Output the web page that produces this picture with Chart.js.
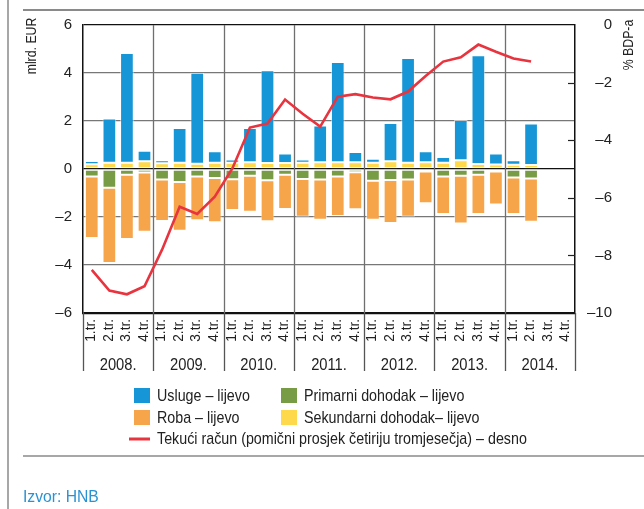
<!DOCTYPE html>
<html>
<head>
<meta charset="utf-8">
<script src="https://cdn.jsdelivr.net/npm/chart.js@4.4.1/dist/chart.umd.min.js"></script>
<style>
  html, body { margin: 0; padding: 0; background: #fff; }
  canvas { display: block; }
</style>
</head>
<body>
<canvas id="chart" width="644" height="509"></canvas>
<script>
const quarters = ['1.tr.', '2.tr.', '3.tr.', '4.tr.'];
const years = ['2008.', '2009.', '2010.', '2011.', '2012.', '2013.', '2014.'];
const labels = years.flatMap(y => quarters.map(q => q + ' ' + y));

// mlrd. EUR, lijeva os
const usluge = [0.13, 1.84, 4.57, 0.44, 0.12, 1.45, 3.79, 0.48, 0.14, 1.43, 3.86, 0.40,
  0.14, 1.53, 4.18, 0.43, 0.17, 1.60, 4.37, 0.46, 0.24, 1.68, 4.53, 0.46, 0.18, 1.73, null, null];
const sekundarni = [0.20, 0.26, 0.26, 0.32, 0.24, 0.26, 0.22, 0.26, 0.26, 0.28, 0.25, 0.25,
  0.26, 0.28, 0.28, 0.28, 0.26, 0.32, 0.26, 0.28, 0.26, 0.36, 0.21, 0.19, 0.18, 0.17, null, null];
const primarni = [-0.31, -0.78, -0.24, -0.15, -0.44, -0.54, -0.31, -0.38, -0.43, -0.28, -0.47, -0.24,
  -0.42, -0.44, -0.31, -0.14, -0.49, -0.46, -0.44, -0.10, -0.31, -0.28, -0.24, -0.10, -0.35, -0.40, null, null];
const roba = [-2.56, -3.14, -2.68, -2.46, -1.73, -2.03, -1.83, -1.84, -1.28, -1.50, -1.71, -1.43,
  -1.57, -1.67, -1.65, -1.54, -1.62, -1.79, -1.55, -1.33, -1.57, -1.99, -1.64, -1.38, -1.53, -1.80, null, null];
// % BDP-a, desna os
const tekuci = [-8.50, -9.22, -9.35, -9.07, -7.80, -6.31, -6.56, -5.96, -4.98, -3.56, -3.42, -2.59,
  -3.08, -3.53, -2.49, -2.40, -2.52, -2.58, -2.31, -1.77, -1.27, -1.12, -0.68, -0.93, -1.16, -1.27, null, null];

const BLUE = '#1696d6', ORANGE = '#f7a54b', GREEN = '#789b45', YELLOW = '#fdd94b', RED = '#e8343f';
const SANS = "'Liberation Sans', Arial, sans-serif";

function dash(v) { return v < 0 ? '\u2013' + Math.abs(v) : String(v); }

// narrow look: regular face squeezed horizontally
function narrowText(ctx, text, x, y, size, sx) {
  ctx.save();
  ctx.translate(x, y);
  ctx.scale(sx, 1);
  ctx.font = size + 'px ' + SANS;
  ctx.fillText(text, 0, 0);
  ctx.restore();
}

const extras = {
  id: 'extras',
  beforeDatasetsDraw(chart) {
    const { ctx, chartArea: a, scales: { x } } = chart;
    ctx.save();
    ctx.strokeStyle = '#6f6f6f';
    ctx.lineWidth = 1.3;
    for (let k = 1; k < years.length; k++) {
      const px = Math.round((x.getPixelForValue(k * 4 - 1) + x.getPixelForValue(k * 4)) / 2) + 0.5;
      ctx.beginPath(); ctx.moveTo(px, a.top); ctx.lineTo(px, a.bottom); ctx.stroke();
    }
    ctx.restore();
  },
  afterDraw(chart) {
    const { ctx, chartArea: a, scales: { x, y1 } } = chart;
    ctx.save();
    // page frame lines
    ctx.strokeStyle = '#8a8a8a';
    ctx.lineWidth = 2;
    ctx.beginPath(); ctx.moveTo(23, 10); ctx.lineTo(644, 10); ctx.stroke();
    ctx.lineWidth = 1.5;
    ctx.beginPath(); ctx.moveTo(8, 0); ctx.lineTo(8, 509); ctx.stroke();
    ctx.beginPath(); ctx.moveTo(23, 456); ctx.lineTo(644, 456); ctx.stroke();

    // inner ticks on right axis
    ctx.strokeStyle = '#222';
    ctx.lineWidth = 1.2;
    for (let v = -2; v >= -8; v -= 2) {
      const py = Math.round(y1.getPixelForValue(v)) + 0.5;
      ctx.beginPath(); ctx.moveTo(a.right - 7, py); ctx.lineTo(a.right, py); ctx.stroke();
    }

    // separators under the axis
    ctx.strokeStyle = '#555';
    ctx.lineWidth = 1.3;
    const bounds = [a.left];
    for (let k = 1; k < years.length; k++) bounds.push((x.getPixelForValue(k * 4 - 1) + x.getPixelForValue(k * 4)) / 2);
    bounds.push(a.right);
    bounds.forEach(b => {
      const px = Math.round(b) + 0.5;
      ctx.beginPath(); ctx.moveTo(px, a.bottom); ctx.lineTo(px, 371); ctx.stroke();
    });

    ctx.fillStyle = '#222';
    ctx.textBaseline = 'middle';

    // quarter labels
    ctx.textAlign = 'right';
    labels.forEach((l, i) => {
      ctx.save();
      ctx.translate(x.getPixelForValue(i) - 1, a.bottom + 6);
      ctx.rotate(-Math.PI / 2);
      narrowText(ctx, quarters[i % 4], 0, 0, 15.5, 0.88);
      ctx.restore();
    });

    // year labels
    ctx.textAlign = 'center';
    years.forEach((yr, k) => {
      narrowText(ctx, yr, (bounds[k] + bounds[k + 1]) / 2, 366, 16, 0.92);
    });

    // axis titles
    ctx.save(); ctx.translate(32, 46); ctx.rotate(-Math.PI / 2); narrowText(ctx, 'mlrd. EUR', 0, 0, 15, 0.82); ctx.restore();
    ctx.save(); ctx.translate(629, 45); ctx.rotate(-Math.PI / 2); narrowText(ctx, '% BDP-a', 0, 0, 15, 0.82); ctx.restore();

    // legend
    ctx.textAlign = 'left';
    const items = [
      [BLUE, 'Usluge \u2013 lijevo', 134, 388],
      [GREEN, 'Primarni dohodak \u2013 lijevo', 281, 388],
      [ORANGE, 'Roba \u2013 lijevo', 134, 410],
      [YELLOW, 'Sekundarni dohodak\u2013 lijevo', 281, 410]
    ];
    items.forEach(([c, t, lx, ly]) => {
      ctx.fillStyle = c;
      ctx.fillRect(lx, ly, 16, 15);
      ctx.fillStyle = '#222';
      narrowText(ctx, t, lx + 23, ly + 8, 17, 0.84);
    });
    ctx.strokeStyle = RED;
    ctx.lineWidth = 3;
    ctx.beginPath(); ctx.moveTo(129, 439); ctx.lineTo(150, 439); ctx.stroke();
    ctx.fillStyle = '#222';
    narrowText(ctx, 'Teku\u0107i ra\u010dun (pomi\u010dni prosjek \u010detiriju tromjese\u010dja) \u2013 desno', 157, 439, 17, 0.84);

    // source
    ctx.fillStyle = '#2a92d2';
    narrowText(ctx, 'Izvor: HNB', 23, 497, 16.5, 0.95);
    ctx.restore();
  }
};

function barSet(label, data, color) {
  return {
    type: 'bar', label, data, backgroundColor: color,
    borderColor: 'rgba(255,255,255,0.55)', borderWidth: 1, borderSkipped: false,
    stack: 's', yAxisID: 'y', order: 1,
    barPercentage: 0.78, categoryPercentage: 1
  };
}

new Chart(document.getElementById('chart'), {
  data: {
    labels,
    datasets: [
      barSet('Sekundarni dohodak\u2013 lijevo', sekundarni, YELLOW),
      barSet('Primarni dohodak \u2013 lijevo', primarni, GREEN),
      barSet('Usluge \u2013 lijevo', usluge, BLUE),
      barSet('Roba \u2013 lijevo', roba, ORANGE),
      {
        type: 'line', label: 'Teku\u0107i ra\u010dun', data: tekuci, yAxisID: 'y1',
        borderColor: RED, borderWidth: 2.6, pointRadius: 0, tension: 0, order: 0
      }
    ]
  },
  options: {
    responsive: false,
    animation: false,
    layout: { padding: { left: 0, top: 25, right: 32, bottom: 196 } },
    plugins: { legend: { display: false }, tooltip: { enabled: false } },
    scales: {
      x: { display: false, stacked: true },
      y: {
        stacked: true, min: -6, max: 6,
        afterFit(s) { s.width = 83; },
        ticks: { stepSize: 2, padding: 11, color: '#222', font: { family: SANS, size: 15 }, callback: dash },
        grid: {
          drawTicks: false,
          color: c => (c.tick.value === 0 || c.tick.value === 6 || c.tick.value === -6) ? '#111' : '#777',
          lineWidth: c => c.tick.value === -6 ? 2.2 : 1.3
        },
        border: { display: true, color: '#111', width: 1.5 }
      },
      y1: {
        position: 'right', min: -10, max: 0,
        afterFit(s) { s.width = 37; },
        ticks: { stepSize: 2, padding: 0, crossAlign: 'far', color: '#222', font: { family: SANS, size: 15 }, callback: dash },
        grid: { display: false, drawTicks: false },
        border: { display: true, color: '#111', width: 1.5 }
      }
    }
  },
  plugins: [extras]
});
</script>
</body>
</html>
